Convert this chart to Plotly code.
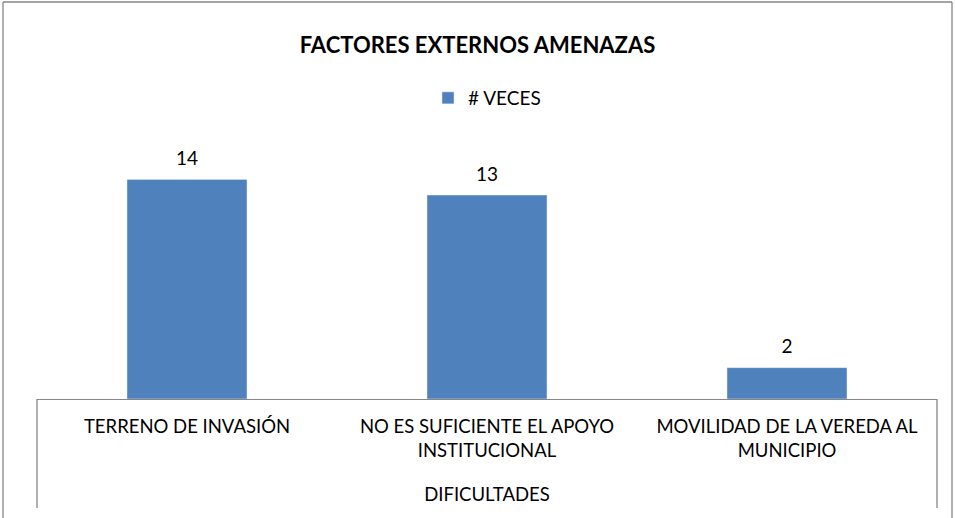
import plotly.graph_objects as go

categorias = ["TERRENO DE INVASIÓN",
              "NO ES SUFICIENTE EL APOYO<br>INSTITUCIONAL",
              "MOVILIDAD DE LA VEREDA AL<br>MUNICIPIO"]
veces = [14, 13, 2]

FONT = "Lato, 'Open Sans', sans-serif"
GRIS = "#868686"

fig = go.Figure()
fig.add_trace(go.Bar(
    x=categorias, y=veces, name="# VECES",
    marker_color="#4F81BD", width=0.4,
))
# data labels above each bar
fig.add_trace(go.Scatter(
    x=categorias, y=veces, mode="markers+text", text=veces,
    textposition="top center", cliponaxis=False, showlegend=False,
    marker=dict(size=14, opacity=0), hoverinfo="skip",
    textfont=dict(size=19, color="#000000"),
))

# plot area: x 37..937, y 148..399 (px)
L, R, T, B = 37, 955 - 937, 148, 518 - 399
W, H = 955 - L - R, 518 - T - B

def px_x(px):
    return (px - L) / W

def px_y(py):
    return (518 - B - py) / H

ln = dict(color=GRIS, width=1.3)
shapes = [
    # outer chart border
    dict(type="line", xref="paper", yref="paper", x0=px_x(3), x1=px_x(3), y0=px_y(2), y1=px_y(520), line=ln),
    dict(type="line", xref="paper", yref="paper", x0=px_x(3), x1=px_x(952), y0=px_y(2), y1=px_y(2), line=ln),
    dict(type="line", xref="paper", yref="paper", x0=px_x(952), x1=px_x(952), y0=px_y(2), y1=px_y(520), line=ln),
    # category axis side lines
    dict(type="line", xref="paper", yref="paper", x0=0, x1=0, y0=0, y1=px_y(508), line=ln),
    dict(type="line", xref="paper", yref="paper", x0=1, x1=1, y0=0, y1=px_y(508), line=ln),
]

fig.update_layout(
    width=955, height=518,
    margin=dict(l=L, r=R, t=T, b=B),
    paper_bgcolor="white", plot_bgcolor="white",
    font=dict(family=FONT, size=18.5, color="#000000"),
    title=dict(text="<b>FACTORES EXTERNOS AMENAZAS</b>", x=0.5, xanchor="center",
               y=1 - 45 / 518, yref="container", yanchor="middle",
               font=dict(size=22)),
    showlegend=True,
    legend=dict(orientation="h", x=0.5, xanchor="center", y=px_y(98), yanchor="middle",
                font=dict(size=19), itemwidth=30),
    xaxis=dict(showline=True, linecolor=GRIS, linewidth=1.3, ticks="", showgrid=False,
               ticklabelstandoff=11,
               title=dict(text="DIFICULTADES", standoff=27, font=dict(size=18.5))),
    yaxis=dict(range=[0, 16], visible=False, showgrid=False),
    shapes=shapes,
)

fig.write_html("out.html", config=dict(displayModeBar=False),
               post_script="document.body.style.margin='0';window.dispatchEvent(new Event('resize'));")
